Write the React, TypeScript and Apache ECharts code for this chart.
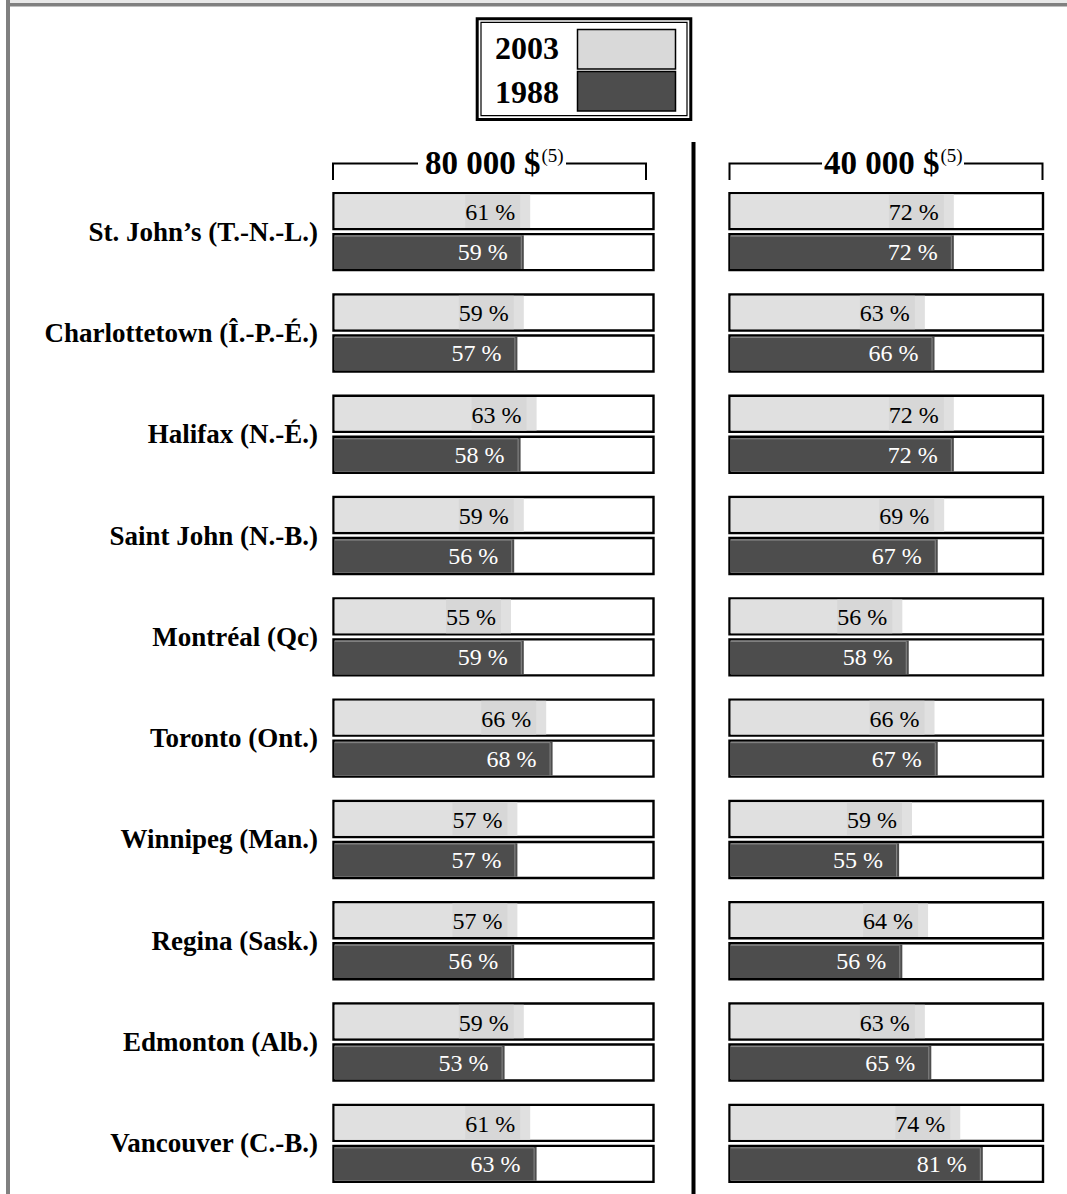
import React, { useEffect, useRef } from "react";
import * as echarts from "echarts";

const cities = [
  "St. John’s (T.-N.-L.)",
  "Charlottetown (Î.-P.-É.)",
  "Halifax (N.-É.)",
  "Saint John (N.-B.)",
  "Montréal (Qc)",
  "Toronto (Ont.)",
  "Winnipeg (Man.)",
  "Regina (Sask.)",
  "Edmonton (Alb.)",
  "Vancouver (C.-B.)",
];
const legendYears = ["2003", "1988"];
const panelTitles = ["80 000 $", "40 000 $"];
const noteMark = "(5)";
const y2003_80k = [61, 59, 63, 59, 55, 66, 57, 57, 59, 61];
const y1988_80k = [59, 57, 58, 56, 59, 68, 57, 56, 53, 63];
const y2003_40k = [72, 63, 72, 69, 56, 66, 59, 64, 63, 74];
const y1988_40k = [72, 66, 72, 67, 58, 67, 55, 56, 65, 81];

const SERIF = "Liberation Serif, Times New Roman, serif";
const LIGHT = "#e0e0e0";
const LIGHT_PATCH = "#d7d7d7";
const DARK = "#4d4d4d";

const makeRender = (boxX: number, boxW: number) => (params: any, api: any) => {
  const idx = api.value(0);
  const a = api.value(1);
  const b = api.value(2);
  const cy = api.coord([0, idx])[1];
  const endA = api.coord([a, idx])[0];
  const endB = api.coord([b, idx])[0];
  const bw = 2.4;
  const h = 36;
  const top1 = cy - 38.5;
  const top2 = cy + 2.5;
  const innerL = boxX + bw / 2;
  const children: any[] = [];
  // 2003 box
  children.push({
    type: "rect",
    shape: { x: boxX, y: top1, width: boxW, height: h },
    style: { fill: "#fff", stroke: "#000", lineWidth: bw },
  });
  children.push({
    type: "rect",
    shape: { x: innerL, y: top1 + bw / 2, width: endA - innerL, height: h - bw },
    style: { fill: LIGHT },
  });
  children.push({
    type: "rect",
    shape: { x: endA - 15 - 50, y: top1 + bw / 2, width: 55, height: h - bw },
    style: { fill: LIGHT_PATCH },
  });
  children.push({
    type: "text",
    style: {
      text: a + " %",
      x: endA - 15,
      y: top1 + h / 2 + 1,
      align: "right",
      verticalAlign: "middle",
      fontFamily: SERIF,
      fontSize: 24,
      fill: "#000",
    },
  });
  // 1988 box
  children.push({
    type: "rect",
    shape: { x: boxX, y: top2, width: boxW, height: h },
    style: { fill: "#fff", stroke: "#000", lineWidth: bw },
  });
  children.push({
    type: "rect",
    shape: { x: innerL, y: top2 + bw / 2, width: endB - innerL, height: h - bw },
    style: { fill: DARK },
  });
  children.push({
    type: "polyline",
    shape: {
      points: [
        [innerL, top2 + bw / 2 + 0.8],
        [endB - 2.5, top2 + bw / 2 + 0.8],
        [endB - 2.5, top2 + h - bw / 2],
      ],
    },
    style: { stroke: "#8a8a8a", lineWidth: 1, fill: null },
  });
  children.push({
    type: "text",
    style: {
      text: b + " %",
      x: endB - 16,
      y: top2 + h / 2,
      align: "right",
      verticalAlign: "middle",
      fontFamily: SERIF,
      fontSize: 24,
      fill: "#fff",
    },
  });
  return { type: "group", children };
};

export default function App() {
  const ref = useRef<HTMLDivElement>(null);
  useEffect(() => {
    if (!ref.current) return;
    const chart = echarts.init(ref.current, null, { renderer: "svg" });
    const bracket = (pts: number[][]) => ({
      type: "polyline",
      shape: { points: pts },
      style: { stroke: "#000", lineWidth: 2, fill: null },
    });
    const txt = (text: string, x: number, y: number, size: number, bold: boolean) => ({
      type: "text",
      style: {
        text,
        x,
        y,
        align: "left",
        verticalAlign: "middle",
        fontFamily: SERIF,
        fontSize: size,
        fontWeight: bold ? "bold" : "normal",
        fill: "#000",
      },
    });
    const option: any = {
      animation: false,
      backgroundColor: "#fff",
      grid: [
        { left: 335, width: 320, top: 181, height: 1014 },
        { left: 722, width: 322, top: 181, height: 1014 },
      ],
      xAxis: [
        { type: "value", min: 0, max: 100, show: false, gridIndex: 0 },
        { type: "value", min: 0, max: 100, show: false, gridIndex: 1 },
      ],
      yAxis: [
        {
          type: "category",
          data: cities,
          inverse: true,
          gridIndex: 0,
          axisLine: { show: false },
          axisTick: { show: false },
          splitLine: { show: false },
          axisLabel: {
            margin: 17,
            fontFamily: SERIF,
            fontWeight: "bold",
            fontSize: 27,
            color: "#000",
          },
        },
        {
          type: "category",
          data: cities,
          inverse: true,
          gridIndex: 1,
          axisLine: { show: false },
          axisTick: { show: false },
          splitLine: { show: false },
          axisLabel: { show: false },
        },
      ],
      series: [
        {
          type: "custom",
          xAxisIndex: 0,
          yAxisIndex: 0,
          clip: false,
          encode: { y: 0, x: [1, 2] },
          data: cities.map((c, i) => [i, y2003_80k[i], y1988_80k[i]]),
          renderItem: makeRender(333.5, 320),
        },
        {
          type: "custom",
          xAxisIndex: 1,
          yAxisIndex: 1,
          clip: false,
          encode: { y: 0, x: [1, 2] },
          data: cities.map((c, i) => [i, y2003_40k[i], y1988_40k[i]]),
          renderItem: makeRender(729.5, 313.5),
        },
      ],
      graphic: [
        // page frame
        { type: "rect", shape: { x: 10, y: 0, width: 1057, height: 3.3 }, style: { fill: "#e8e8e8" } },
        { type: "rect", shape: { x: 6, y: 3, width: 1061, height: 3.6 }, style: { fill: "#808080" } },
        { type: "rect", shape: { x: 6, y: 0, width: 4, height: 1194 }, style: { fill: "#808080" } },
        // legend
        {
          type: "rect",
          shape: { x: 477.2, y: 18.7, width: 213.6, height: 100.9 },
          style: { fill: "#fff", stroke: "#000", lineWidth: 3 },
        },
        {
          type: "rect",
          shape: { x: 481, y: 22.4, width: 206, height: 93.2 },
          style: { fill: null, stroke: "#000", lineWidth: 1.2 },
        },
        {
          type: "rect",
          shape: { x: 577.5, y: 29.5, width: 98, height: 39.5 },
          style: { fill: "#d9d9d9", stroke: "#000", lineWidth: 1.5 },
        },
        {
          type: "rect",
          shape: { x: 577.5, y: 71.5, width: 98, height: 39.5 },
          style: { fill: DARK, stroke: "#000", lineWidth: 1.5 },
        },
        txt(legendYears[0], 495, 48, 32, true),
        txt(legendYears[1], 495, 91.5, 32, true),
        // panel headers
        bracket([[333, 180], [333, 163.5], [418, 163.5]]),
        bracket([[566, 163.5], [646, 163.5], [646, 180]]),
        bracket([[729.5, 180], [729.5, 163.5], [822, 163.5]]),
        bracket([[964, 163.5], [1042.5, 163.5], [1042.5, 180]]),
        txt(panelTitles[0], 425, 163, 33, true),
        txt(noteMark, 541.5, 155, 19, false),
        txt(panelTitles[1], 824, 163, 33, true),
        txt(noteMark, 940.5, 155, 19, false),
        // divider
        { type: "rect", shape: { x: 691.5, y: 142, width: 4, height: 1052 }, style: { fill: "#000" } },
      ],
    };
    chart.setOption(option);
    return () => chart.dispose();
  }, []);
  return (
    <div
      ref={ref}
      style={{ position: "absolute", left: 0, top: 0, width: 1067, height: 1194, background: "#fff" }}
    />
  );
}
